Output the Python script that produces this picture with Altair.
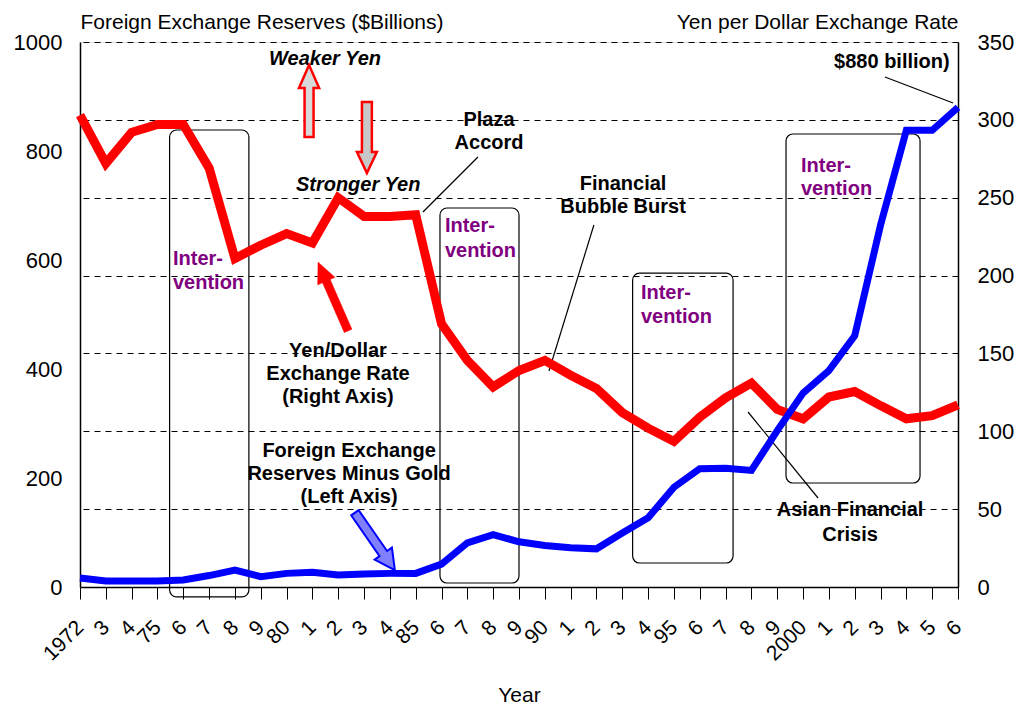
import altair as alt
import pandas as pd

# ---------------- data ----------------
years = list(range(1972, 2007))
year_labels = ["1972", "3", "4", "75", "6", "7", "8", "9", "80", "1", "2", "3", "4", "85",
               "6", "7", "8", "9", "90", "1", "2", "3", "4", "95", "6", "7", "8", "9",
               "2000", "1", "2", "3", "4", "5", "6"]
yen_per_dollar = [303, 272, 292, 297, 297, 269, 211, 219.5, 227, 221, 250, 238, 238, 239,
                  169, 145.5, 128.5, 139, 145.5, 136, 127.5, 112, 102, 93.5, 109, 121.5,
                  131, 114, 108, 122, 125.5, 116.5, 108, 110, 117]
reserves_bn = [16.5, 11, 11, 11, 13, 21, 31, 19, 25, 27, 22, 24, 25, 25, 42, 81, 96, 83,
               76, 72, 70, 99, 127, 183, 217, 218, 214, 287, 356, 397, 461, 664, 838, 838, 880]

# annotations (x in years, y in $ billions of the left axis)
italic_labels = ["Weaker Yen", "Stronger Yen"]
italic_x = [1981.49, 1982.77]
italic_y = [957.8, 726.6]

note_labels = ["Plaza", "Accord", "Financial", "Bubble Burst", "Yen/Dollar", "Exchange Rate",
               "(Right Axis)", "Foreign Exchange", "Reserves Minus Gold", "(Left Axis)",
               "Asian Financial", "Crisis", "$880 billion)"]
note_x = [1987.84, 1987.84, 1993.03, 1993.03, 1981.99, 1981.99, 1981.99, 1982.42, 1982.42,
          1982.42, 2001.82, 2001.82, 2003.44]
note_y = [845.9, 803.7, 728.4, 686.2, 422.0, 379.8, 337.6, 238.5, 196.3, 154.1, 130.3, 84.4, 952.3]

interv_labels = ["Inter-", "vention"] * 4
interv_x = [1975.60, 1975.60, 1986.13, 1986.13, 1993.72, 1993.72, 1999.92, 1999.92]
interv_y = [590.8, 546.8, 651.4, 605.5, 528.4, 484.4, 761.5, 719.3]

box_x1 = [1975.47, 1985.94, 1993.40, 1999.34]
box_x2 = [1978.54, 1989.00, 1997.29, 2004.53]
box_top = [838.5, 695.4, 576.1, 831.2]
box_bot = [-18.3, 7.3, 44.0, 190.8]

leader_x1 = [1985.28, 1990.16, 1997.87, 2003.17]
leader_y1 = [688.1, 396.3, 321.1, 935.8]
leader_x2 = [1987.41, 1991.90, 2000.58, 2005.81]
leader_y2 = [789.0, 664.2, 163.3, 888.1]

FONT = "Liberation Sans"
X_DOM = [1972, 2006]
LEFT_DOM = [0, 1000]
RIGHT_DOM = [0, 350]

series = pd.DataFrame({"year": years, "yen": yen_per_dollar, "res": reserves_bn})

label_js = "[" + ",".join(f"'{s}'" for s in year_labels) + "]"

x_axis = alt.Axis(
    values=years, labelExpr=f"{label_js}[datum.value - 1972]",
    labelAngle=315, labelAlign="right", labelBaseline="middle", labelFontSize=21,
    labelPadding=25, labelOverlap=False, labelFlush=False, labelColor="black",
    labelFont=FONT, tickSize=12, tickColor="black", tickWidth=1, domainColor="black",
    domainWidth=1.5, grid=False, title="Year", titleFontSize=21, titleFontWeight="normal",
    titleFont=FONT, titleColor="black", titleY=114, titleBaseline="alphabetic",
)


def xq(field="year"):
    return alt.X(f"{field}:Q", scale=alt.Scale(domain=X_DOM, nice=False, zero=False), axis=x_axis)


def yl(field, axis=None):
    return alt.Y(f"{field}:Q", scale=alt.Scale(domain=LEFT_DOM, nice=False, zero=False), axis=axis)


left_axis = alt.Axis(
    values=[0, 200, 400, 600, 800, 1000], format="d", ticks=False, grid=False, labelFontSize=22,
    labelPadding=18, labelColor="black", labelFont=FONT, domainColor="black", domainWidth=1.5,
    title="Foreign Exchange Reserves ($Billions)", titleAngle=0, titleAlign="left",
    titleX=0, titleY=-14, titleBaseline="alphabetic", titleFontSize=21,
    titleFontWeight="normal", titleFont=FONT, titleColor="black",
)

right_axis = alt.Axis(
    orient="right", values=[0, 50, 100, 150, 200, 250, 300, 350], ticks=False, grid=True,
    gridDash=[6, 5], gridColor="black", gridWidth=1, gridOpacity=1, labelFontSize=22,
    labelPadding=19, labelAlign="left", labelColor="black", labelFont=FONT,
    domainColor="black", domainWidth=1.5,
    title="Yen per Dollar Exchange Rate", titleAngle=0, titleAlign="right", titleX=0,
    titleY=-14, titleBaseline="alphabetic", titleFontSize=21, titleFontWeight="normal",
    titleFont=FONT, titleColor="black",
)

# intervention boxes
boxes = alt.Chart(pd.DataFrame({"x1": box_x1, "x2": box_x2, "t": box_top, "b": box_bot})).mark_rect(
    fillOpacity=0, stroke="black", strokeWidth=1.2, cornerRadius=7
).encode(x=xq("x1"), x2="x2:Q", y=yl("t"), y2="b:Q")

red_line = alt.Chart(series).mark_line(color="#ff0000", strokeWidth=9).encode(
    x=xq("year"),
    y=alt.Y("yen:Q", scale=alt.Scale(domain=RIGHT_DOM, nice=False, zero=False), axis=right_axis),
)

blue_line = alt.Chart(series).mark_line(color="#0000ff", strokeWidth=7).encode(
    x=xq("year"), y=yl("res", left_axis)
)

leaders = alt.Chart(pd.DataFrame({"x1": leader_x1, "y1": leader_y1, "x2": leader_x2, "y2": leader_y2})).mark_rule(
    color="black", strokeWidth=1.2
).encode(x=xq("x1"), x2="x2:Q", y=yl("y1"), y2="y2:Q")

italic_txt = alt.Chart(pd.DataFrame({"t": italic_labels, "x": italic_x, "y": italic_y})).mark_text(
    font=FONT, fontSize=20, fontWeight="bold", fontStyle="italic", align="center",
    baseline="alphabetic", color="black"
).encode(x=xq("x"), y=yl("y"), text="t:N")

note_txt = alt.Chart(pd.DataFrame({"t": note_labels, "x": note_x, "y": note_y})).mark_text(
    font=FONT, fontSize=20, fontWeight="bold", align="center", baseline="alphabetic", color="black"
).encode(x=xq("x"), y=yl("y"), text="t:N")

interv_txt = alt.Chart(pd.DataFrame({"t": interv_labels, "x": interv_x, "y": interv_y})).mark_text(
    font=FONT, fontSize=20, fontWeight="bold", align="left", baseline="alphabetic", color="#800080"
).encode(x=xq("x"), y=yl("y"), text="t:N")

# arrows as custom symbols
UP_OUTLINE = "M -0.125 1 L 0.125 1 L 0.125 -0.36 L 0.28 -0.36 L 0 -1 L -0.28 -0.36 L -0.125 -0.36 Z"
DOWN_OUTLINE = "M -0.14 -1 L 0.14 -1 L 0.14 0.41 L 0.28 0.41 L 0 1 L -0.28 0.41 L -0.14 0.41 Z"
RED_ARROW = "M -0.11 1 L 0.11 1 L 0.11 -0.45 L 0.25 -0.45 L 0 -1 L -0.25 -0.45 L -0.11 -0.45 Z"
BLUE_ARROW = "M -0.13 1 L 0.13 1 L 0.13 -0.42 L 0.3 -0.42 L 0 -1 L -0.3 -0.42 L -0.13 -0.42 Z"


def arrow(path, xv, yv, size, angle, fill, stroke, sw):
    return alt.Chart(pd.DataFrame({"x": [xv], "y": [yv]})).mark_point(
        shape=path, size=size, angle=angle, filled=True, fill=fill, stroke=stroke,
        strokeWidth=sw, opacity=1, fillOpacity=1, strokeOpacity=1, strokeJoin="miter"
    ).encode(x=xq("x"), y=yl("y"))


arrow_weak = arrow(UP_OUTLINE, 1980.87, 891.7, 5184, 0, "#d9d9d9", "#ff0000", 2.5)
arrow_strong = arrow(DOWN_OUTLINE, 1983.11, 824.8, 5041, 0, "#c8c8c8", "#ff0000", 2.5)
arrow_red = arrow(RED_ARROW, 1981.80, 533.0, 5625, 336.4, "#ff0000", "#ff0000", 0.5)
arrow_blue = arrow(BLUE_ARROW, 1983.42, 83.5, 4900, 145.2, "#8080ff", "#0000ff", 2)

chart = alt.layer(
    boxes, leaders, red_line, blue_line, italic_txt, note_txt, interv_txt,
    arrow_weak, arrow_strong, arrow_red, arrow_blue,
).resolve_scale(y="independent").properties(
    width=878, height=545,
    padding={"left": 80, "top": 42, "right": 60, "bottom": 120},
    autosize=alt.AutoSizeParams(type="none"),
    background="white",
).configure_view(stroke="black", strokeWidth=1.5).configure(font=FONT)

chart.save("out.html", embed_options={"renderer": "svg", "actions": False})
